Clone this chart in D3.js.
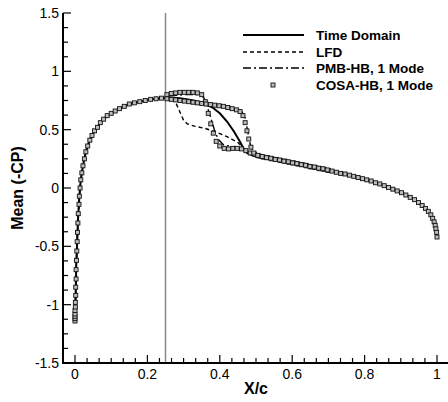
<!DOCTYPE html>
<html>
<head>
<meta charset="utf-8">
<script src="https://cdn.jsdelivr.net/npm/d3@7"></script>
<style>
  body { margin: 0; background: #fff; }
  svg text { font-family: "Liberation Sans", Arial, sans-serif; }
</style>
</head>
<body>
<div id="chart"></div>
<script>
// leading edge part, shared by all series
var leadEdge = [[0.000,-1.14],[0.000,-1.12],[0.000,-1.10],[0.000,-1.08],[0.000,-1.05],[0.001,-1.02],[0.001,-0.98],
  [0.002,-0.92],[0.002,-0.85],[0.003,-0.78],[0.003,-0.70],[0.004,-0.62],[0.005,-0.54],[0.006,-0.46],[0.007,-0.38],
  [0.008,-0.30],[0.009,-0.22],[0.011,-0.14],[0.012,-0.07],[0.014,0.00],[0.016,0.07],[0.019,0.13],[0.022,0.19],
  [0.026,0.25],[0.030,0.31],[0.035,0.36],[0.041,0.41],[0.047,0.45],[0.054,0.49],[0.062,0.52],[0.070,0.56],
  [0.079,0.59],[0.089,0.62],[0.100,0.64],[0.111,0.66],[0.123,0.68],[0.136,0.70],[0.150,0.72],[0.164,0.73],
  [0.179,0.74],[0.194,0.75],[0.209,0.76],[0.224,0.765],[0.239,0.77]];

// trailing part, shared by all series
var trailEdge = [[0.50,0.27],[0.52,0.255],[0.54,0.245],[0.56,0.235],[0.58,0.22],[0.60,0.21],[0.62,0.20],[0.64,0.19],
  [0.66,0.175],[0.68,0.16],[0.70,0.15],[0.72,0.135],[0.74,0.12],[0.76,0.105],[0.78,0.09],[0.80,0.07],[0.82,0.055],
  [0.84,0.035],[0.86,0.015],[0.88,-0.01],[0.90,-0.035],[0.915,-0.06],[0.93,-0.085],[0.945,-0.115],[0.96,-0.15],
  [0.97,-0.18],[0.98,-0.22],[0.987,-0.26],[0.993,-0.31],[0.997,-0.36],[1.000,-0.42]];

// shock region of each series
var timeShock = [[0.26,0.775],[0.29,0.77],[0.32,0.755],[0.34,0.74],[0.36,0.72],[0.38,0.69],[0.40,0.64],
  [0.42,0.57],[0.44,0.48],[0.455,0.40],[0.465,0.34],[0.475,0.30],[0.49,0.28]];
var lfdShock = [[0.26,0.77],[0.27,0.755],[0.28,0.72],[0.29,0.65],[0.30,0.58],[0.31,0.55],[0.33,0.53],
  [0.36,0.51],[0.39,0.48],[0.42,0.44],[0.45,0.39],[0.47,0.33],[0.49,0.29]];
var pmbUpper = [[0.26,0.79],[0.30,0.80],[0.34,0.80],[0.355,0.78],[0.365,0.70],[0.375,0.60],[0.385,0.50],
  [0.395,0.42],[0.41,0.37],[0.44,0.35],[0.47,0.33],[0.49,0.29]];
var pmbLower = [[0.26,0.77],[0.30,0.755],[0.35,0.735],[0.40,0.71],[0.44,0.68],[0.46,0.66],[0.47,0.60],
  [0.478,0.47],[0.485,0.36],[0.495,0.29]];

var cosaUpper = [[0.254,0.80],[0.266,0.81],[0.278,0.815],[0.290,0.82],[0.302,0.82],[0.314,0.82],[0.326,0.82],
  [0.338,0.815],[0.350,0.80],[0.360,0.74],[0.368,0.64],[0.375,0.55],[0.382,0.47],[0.390,0.40],[0.400,0.36],
  [0.412,0.34],[0.424,0.335],[0.436,0.34],[0.448,0.34],[0.460,0.335],[0.472,0.32],[0.484,0.30],[0.496,0.29],
  [0.508,0.275],[0.52,0.265],[0.532,0.26],[0.544,0.25],[0.556,0.245],[0.568,0.235],[0.58,0.23],[0.592,0.22],
  [0.604,0.215],[0.616,0.205],[0.628,0.20],[0.64,0.19],[0.652,0.18],[0.664,0.175],[0.676,0.165],[0.688,0.16],
  [0.70,0.15]];
var cosaLower = [[0.254,0.765],[0.266,0.76],[0.278,0.755],[0.290,0.75],[0.302,0.745],[0.314,0.74],[0.326,0.735],
  [0.338,0.73],[0.350,0.725],[0.362,0.72],[0.374,0.715],[0.386,0.71],[0.398,0.705],[0.410,0.70],[0.422,0.69],
  [0.434,0.68],[0.446,0.67],[0.456,0.655],[0.464,0.62],[0.470,0.56],[0.475,0.49],[0.480,0.42],[0.486,0.35],
  [0.494,0.30],[0.505,0.28],[0.517,0.27],[0.529,0.26],[0.541,0.255],[0.553,0.245],[0.565,0.24],[0.577,0.23],
  [0.589,0.225],[0.601,0.215],[0.613,0.21],[0.625,0.20],[0.637,0.195],[0.649,0.185],[0.661,0.18],[0.673,0.17],
  [0.685,0.165],[0.697,0.155]];
var cosaTail = [[0.71,0.145],[0.722,0.135],[0.734,0.125],[0.746,0.12],[0.758,0.11],[0.77,0.10],[0.782,0.09],
  [0.794,0.08],[0.806,0.07],[0.818,0.06],[0.83,0.045],[0.842,0.035],[0.854,0.02],[0.866,0.005],[0.878,-0.01],
  [0.89,-0.025],[0.902,-0.04],[0.914,-0.06],[0.926,-0.08],[0.938,-0.1],[0.949,-0.125],[0.959,-0.15],[0.968,-0.175],
  [0.976,-0.2],[0.983,-0.23],[0.988,-0.26],[0.992,-0.29],[0.995,-0.32],[0.997,-0.35],[0.999,-0.38],[1.000,-0.42]];

var seriesNames = ["Time Domain", "LFD", "PMB-HB, 1 Mode", "COSA-HB, 1 Mode"];
var xTicks = [0, 0.2, 0.4, 0.6, 0.8, 1];
var yTicks = [-1.5, -1, -0.5, 0, 0.5, 1, 1.5];

var W = 448, H = 402;
var svg = d3.select("#chart").append("svg").attr("width", W).attr("height", H);

var x = d3.scaleLinear().domain([0, 1]).range([75, 437]);
var y = d3.scaleLinear().domain([-1.5, 1.5]).range([363, 13]);
var x0 = x.invert(63), x1 = x.invert(448);

// vertical reference line at x/c = 0.25
svg.append("line")
  .attr("x1", x(0.25)).attr("x2", x(0.25))
  .attr("y1", y(1.5)).attr("y2", y(-1.5))
  .attr("stroke", "#888").attr("stroke-width", 1.5);

var line = d3.line().x(function(d) { return x(d[0]); }).y(function(d) { return y(d[1]); });

var styles = [
  {dash: null, w: 2},
  {dash: "4,3", w: 1.4},
  {dash: "8,3,2,3", w: 1.4}
];
var curves = [
  {data: leadEdge.concat(timeShock, trailEdge), s: styles[0]},
  {data: leadEdge.concat(lfdShock, trailEdge), s: styles[1]},
  {data: leadEdge.concat(pmbLower, trailEdge), s: styles[2]},
  {data: pmbUpper, s: styles[2]}
];
curves.forEach(function(c) {
  svg.append("path").datum(c.data)
    .attr("d", line)
    .attr("fill", "none")
    .attr("stroke", "#000")
    .attr("stroke-width", c.s.w)
    .attr("stroke-dasharray", c.s.dash);
});

// COSA-HB markers
var cosa = leadEdge.concat(cosaUpper, cosaLower, cosaTail);
svg.append("g").selectAll("rect").data(cosa).enter().append("rect")
  .attr("x", function(d) { return x(d[0]) - 2; })
  .attr("y", function(d) { return y(d[1]) - 2; })
  .attr("width", 4).attr("height", 4)
  .attr("fill", "#bdbdbd").attr("stroke", "#111").attr("stroke-width", 0.9);

// axes
var axisG = svg.append("g");
axisG.append("line").attr("x1", 63).attr("x2", 448).attr("y1", y(-1.5)).attr("y2", y(-1.5))
  .attr("stroke", "#000").attr("stroke-width", 2);
axisG.append("line").attr("x1", 63).attr("x2", 63).attr("y1", y(1.5)).attr("y2", y(-1.5) + 1)
  .attr("stroke", "#000").attr("stroke-width", 2);

var xMinor = d3.range(-1, 32).map(function(i) { return i / 30; }).filter(function(v) { return v > x0 && v < x1; });
axisG.selectAll(".xt").data(xMinor).enter().append("line")
  .attr("x1", function(d) { return x(d); }).attr("x2", function(d) { return x(d); })
  .attr("y1", y(-1.5)).attr("y2", function(d) { return y(-1.5) - (Math.abs(d * 5 - Math.round(d * 5)) < 1e-6 ? 8 : 5); })
  .attr("stroke", "#000").attr("stroke-width", 1.2);
axisG.selectAll(".xl").data(xTicks).enter().append("text")
  .attr("x", function(d) { return x(d); }).attr("y", y(-1.5) + 15.5)
  .attr("text-anchor", "middle").attr("font-size", 14)
  .text(function(d) { return d; });

var yMinor = d3.range(-12, 13).map(function(i) { return i / 8; });
axisG.selectAll(".yt").data(yMinor).enter().append("line")
  .attr("x1", 63).attr("x2", function(d) { return Math.abs(d * 2 - Math.round(d * 2)) < 1e-6 ? 71 : 68; })
  .attr("y1", function(d) { return y(d); }).attr("y2", function(d) { return y(d); })
  .attr("stroke", "#000").attr("stroke-width", 1.2);
axisG.selectAll(".yl").data(yTicks).enter().append("text")
  .attr("x", 59).attr("y", function(d) { return y(d) + 5; })
  .attr("text-anchor", "end").attr("font-size", 14)
  .text(function(d) { return d; });

svg.append("text").attr("x", 256).attr("y", 394)
  .attr("text-anchor", "middle").attr("font-size", 16).attr("font-weight", "bold").text("X/c");
svg.append("text").attr("transform", "translate(23,188) rotate(-90)")
  .attr("text-anchor", "middle").attr("font-size", 16).attr("font-weight", "bold").text("Mean (-CP)");

// legend
var legY = [35, 52, 68, 85];
var leg = svg.append("g");
styles.forEach(function(s, i) {
  leg.append("line").attr("x1", 243).attr("x2", 304).attr("y1", legY[i]).attr("y2", legY[i])
    .attr("stroke", "#000").attr("stroke-width", s.w).attr("stroke-dasharray", s.dash);
});
leg.append("rect").attr("x", 273 - 2).attr("y", legY[3] - 2).attr("width", 4).attr("height", 4)
  .attr("fill", "#bdbdbd").attr("stroke", "#111").attr("stroke-width", 0.9);
leg.selectAll("text").data(seriesNames).enter().append("text")
  .attr("x", 316).attr("y", function(d, i) { return legY[i] + 5; })
  .attr("font-size", 13.5).attr("font-weight", "bold").text(function(d) { return d; });
</script>
</body>
</html>
